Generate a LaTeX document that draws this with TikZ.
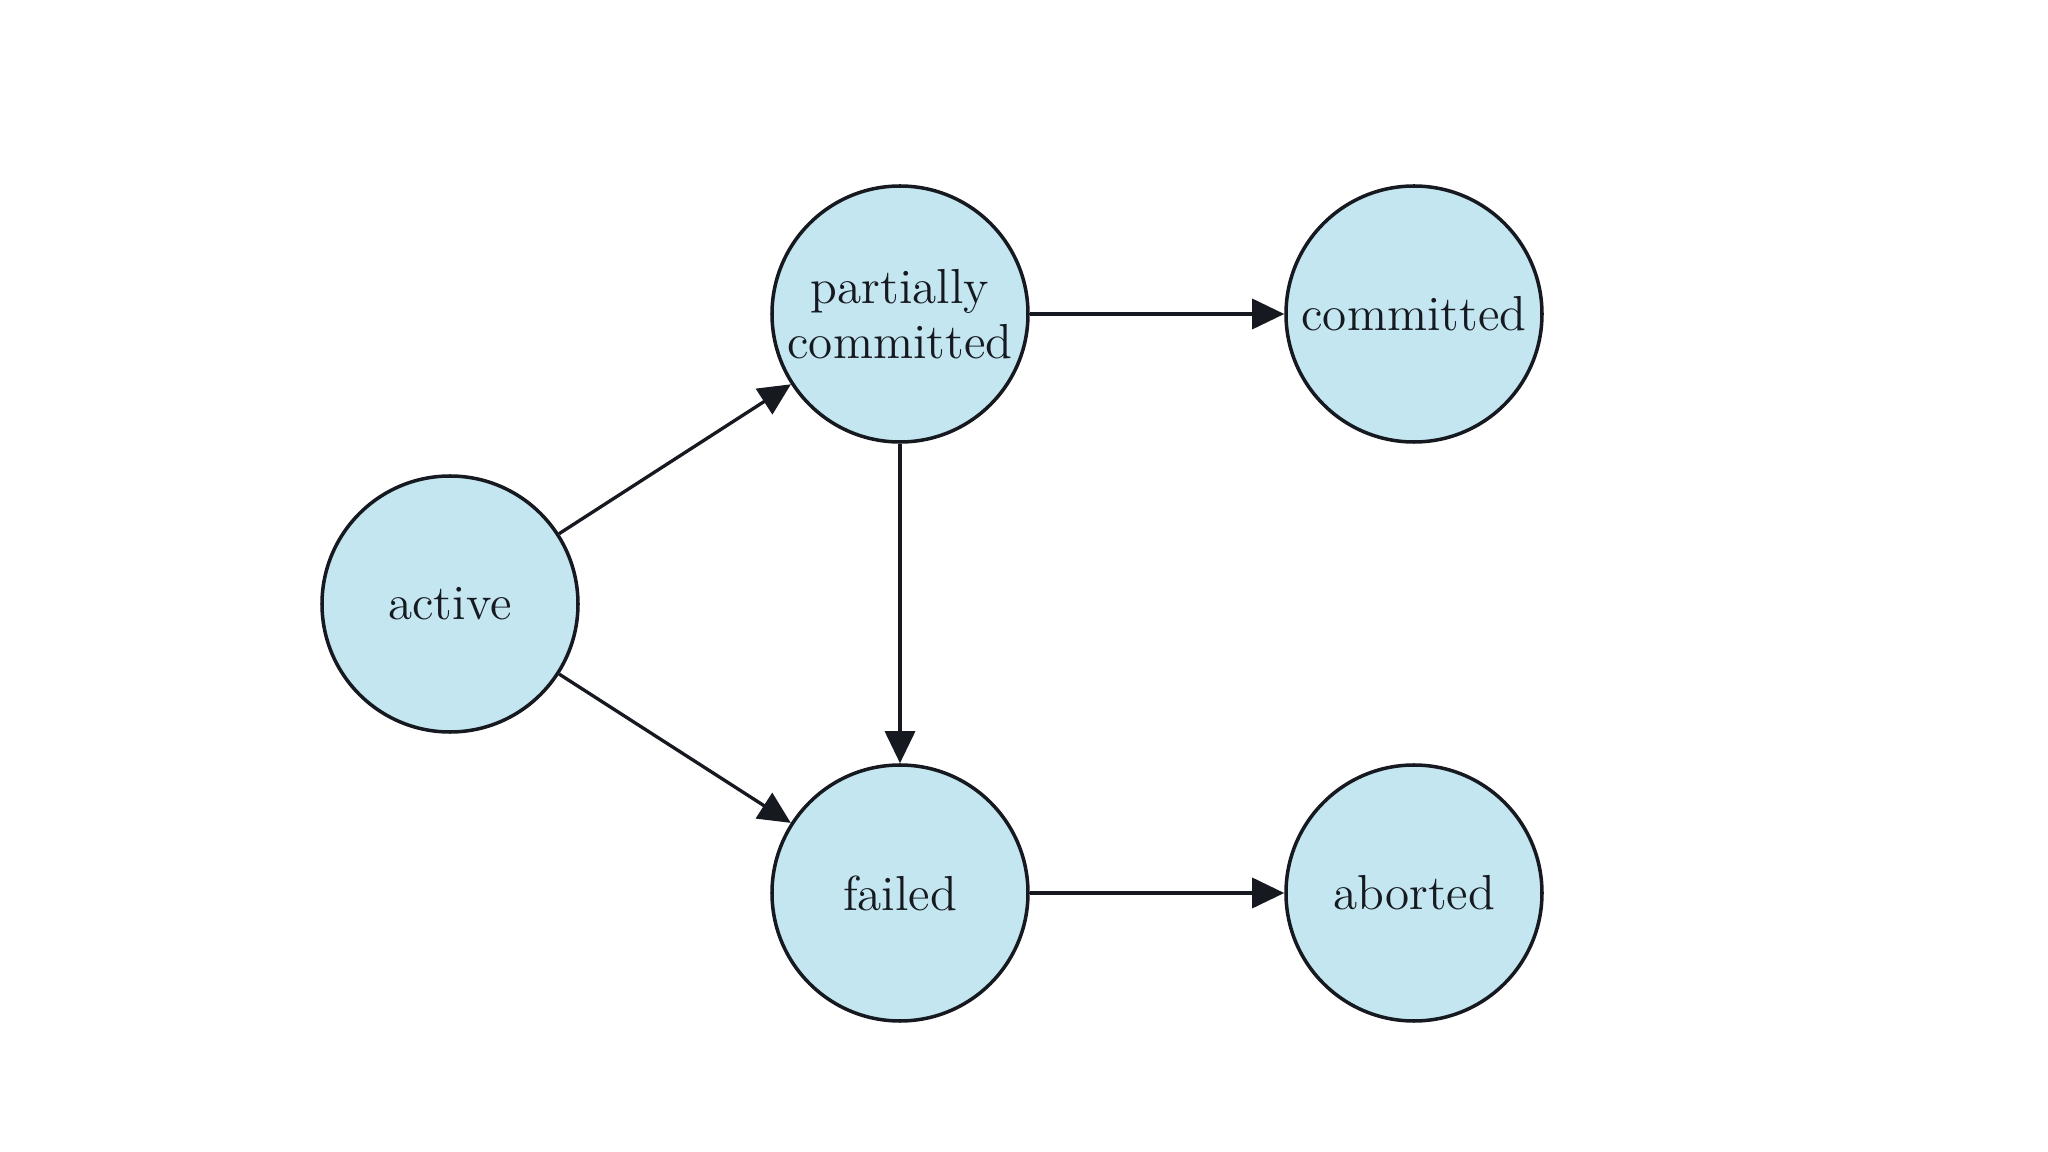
\documentclass[tikz,border=0pt]{standalone}
\usepackage{tikz}
\usetikzlibrary{arrows.meta}
\pgfdeclarelayer{bg}
\pgfsetlayers{bg,main}
\definecolor{statefill}{RGB}{196,230,240}
\definecolor{ink}{RGB}{22,26,32}

\begin{document}
\begin{tikzpicture}[
        state/.style={circle, draw=ink, line width=1pt, fill=statefill,
                minimum size=2.56cm, inner sep=0pt, align=center, text=ink,
                font=\fontsize{14}{15.8}\selectfont},
        trans/.style={line width=0.95pt, draw=ink,
                -{Triangle[length=0.32cm, width=0.30cm]}}]
        \useasboundingbox (0cm, 0cm) rectangle (20.48cm, -11.52cm);
        \node (s0) [state] at (4.50cm, -6.04cm) {active};
        \node (s1) [state] at (9.00cm, -3.14cm) {partially\\committed};
        \node (s2) [state] at (14.14cm, -3.14cm) {committed};
        \node (s3) [state] at (9.00cm, -8.93cm) {failed};
        \node (s4) [state] at (14.14cm, -8.93cm) {aborted};
        \begin{pgfonlayer}{bg}
                \draw (s0) edge [trans] (s1);
                \draw (s0) edge [trans] (s3);
                \draw (s1) edge [trans] (s2);
                \draw (s1) edge [trans] (s3);
                \draw (s3) edge [trans] (s4);
        \end{pgfonlayer}
\end{tikzpicture}
\end{document}
